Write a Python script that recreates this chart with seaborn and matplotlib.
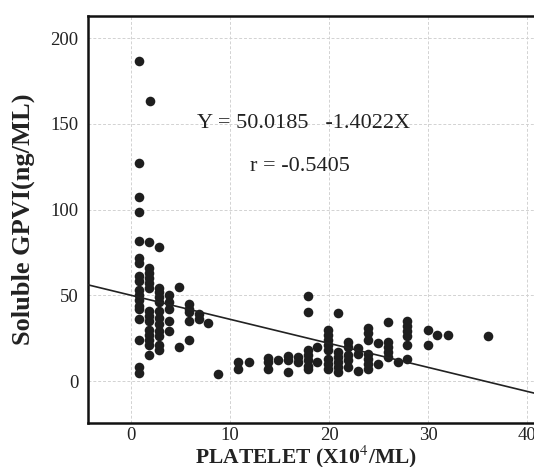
import numpy as np
import pandas as pd
import matplotlib
matplotlib.use("Agg")
import matplotlib.pyplot as plt
import seaborn as sns

# ---- data ----
col_x = [0.8, 1.9, 0.8, 0.8, 0.8, 0.8, 1.8, 2.8]
col_y = [186.6, 163.4, 127.4, 107.6, 98.4, 81.6, 81.2, 78.4]

groups = {
    0.8: [72, 69, 61, 58.4, 53, 50, 47, 44, 42, 36, 24, 8, 4.4],
    1.8: [66, 63, 60, 57, 54, 41, 38, 35, 30, 27, 24, 21, 15],
    2.8: [54, 52, 49, 46, 41, 37, 33, 29, 26, 21, 18],
    3.8: [50, 46, 42, 35, 29],
    4.8: [55, 20],
    5.8: [45, 42, 40, 35, 24],
    6.9: [39, 36],
    7.8: [34],
    8.8: [4],
    10.8: [11, 7],
    11.9: [11],
    13.8: [13.6, 11, 7],
    14.8: [12],
    15.8: [14.4, 12, 5],
    16.9: [14, 11],
    17.9: [49.6, 40, 18, 15, 12, 9, 7],
    18.8: [20, 11],
    19.9: [30, 27, 24, 21, 18, 13, 10, 7],
    20.9: [39.6, 17, 14, 11, 8, 5],
    21.9: [23, 20, 15, 12, 8],
    22.9: [19, 16, 6],
    23.9: [31, 28, 24, 16, 13, 10, 7],
    24.9: [22, 10],
    25.9: [34.4, 23, 20, 17, 14],
    27.0: [11],
    27.9: [35, 32, 29, 26, 21, 13],
    30.0: [29.6, 21],
    30.9: [27],
    32.0: [27],
    36.0: [26.4],
}

platelet = list(col_x)
gpvi = list(col_y)
for gx, ys in groups.items():
    platelet += [gx] * len(ys)
    gpvi += ys

intercept = 50.0185
slope = -1.4022
r_value = -0.5405

x_ticks = [0, 10, 20, 30, 40]
y_ticks = [0, 50, 100, 150, 200]
x_label = "PLATELET (X10$^{4}$/ML)"
y_label = "Soluble GPVI(ng/ML)"

df = pd.DataFrame({"platelet": platelet, "gpvi": gpvi})

# ---- figure ----
sns.set_theme(style="white")
plt.rcParams["font.family"] = ["Liberation Serif", "DejaVu Serif"]
plt.rcParams["mathtext.fontset"] = "stix"

W, H = 534, 467
fig = plt.figure(figsize=(W / 100, H / 100), dpi=100)
left_px, right_px, top_px, bot_px = 88, 545, 16, 423
ax = fig.add_axes([left_px / W, 1 - bot_px / H,
                   (right_px - left_px) / W, (bot_px - top_px) / H])

xlim = (-4.35, 41.8)
ylim = (-24.5, 213)

ax.set_xlim(*xlim)
ax.set_ylim(*ylim)

ax.grid(True, color="#d2d2d2", linestyle=(0, (3, 2)), linewidth=0.7)
ax.set_axisbelow(True)

sns.scatterplot(data=df, x="platelet", y="gpvi", ax=ax, color="#1e1e1e",
                s=48, edgecolor="#1e1e1e", linewidth=0, zorder=3)

line_x = np.array(xlim)
line_df = pd.DataFrame({"x": line_x, "y": intercept + slope * line_x})
sns.lineplot(data=line_df, x="x", y="y", ax=ax, color="#222222",
             linewidth=1.2, zorder=4)

ax.text(17.4, 150.5, f"Y = {intercept:.4f}   {slope:.4f}X", ha="center",
        va="center", fontsize=16, color="#222222")
ax.text(17.1, 125, f"r = {r_value:.4f}", ha="center", va="center",
        fontsize=16, color="#222222")

ax.set_xticks(x_ticks)
ax.set_yticks(y_ticks)
ax.tick_params(axis="both", length=0, labelsize=13.5, colors="#222222")
ax.tick_params(axis="x", pad=3)
ax.tick_params(axis="y", pad=7)

ax.set_xlabel(x_label, fontsize=15.5, fontweight="bold", color="#222222",
              labelpad=1)
ax.xaxis.set_label_coords(0.478, -0.050, transform=ax.transAxes)
ax.xaxis.label.set_va("top")
ax.set_ylabel(y_label, fontsize=19, fontweight="bold", color="#222222",
              labelpad=11)

for sp in ax.spines.values():
    sp.set_color("#111111")
    sp.set_linewidth(1.8)
    sp.set_visible(True)

fig.savefig("out.png", dpi=100, facecolor="white")
